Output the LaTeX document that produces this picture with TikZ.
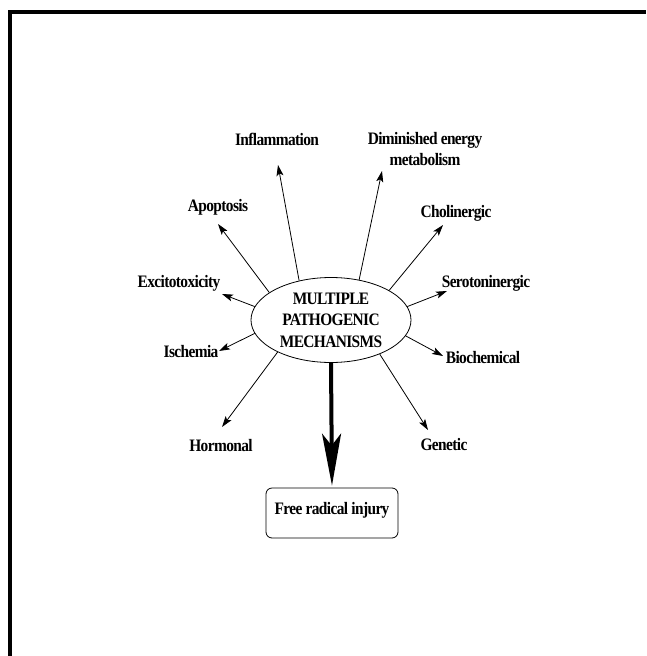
\documentclass[tikz,border=0pt]{standalone}
\usepackage{fontspec}
\setmainfont{Liberation Serif}[FakeStretch=0.88,LetterSpace=-3.5]
\usetikzlibrary{shapes.geometric,arrows.meta}

\begin{document}
\begin{tikzpicture}[x=1pt, y=-1pt,
  lbl/.style={font=\bfseries\fontsize{17.5}{21}\selectfont, inner sep=0pt, anchor=base, align=center},
  spoke/.style={-{Stealth[length=11pt,width=7pt,inset=2.5pt]}, line width=0.8pt}]
\useasboundingbox (0,0) rectangle (646,656);
\draw[line width=4pt] (9.5,656) -- (9.5,11.5) -- (646,11.5);

\node (core) [ellipse, draw=black, line width=0.8pt, minimum width=160pt, minimum height=85pt, inner sep=0pt, align=center, font=\bfseries\fontsize{17.5}{21.5}\selectfont] at (331,320) {MULTIPLE\\PATHOGENIC\\MECHANISMS};

\node (infl) [lbl] at (277,145) {Inflammation};
\node (dimin) [lbl, anchor=center] at (425,149) {Diminished energy\\metabolism};
\node (apop) [lbl] at (218,211) {Apoptosis};
\node (chol) [lbl] at (456,217) {Cholinergic};
\node (exci) [lbl] at (179,287) {Excitotoxicity};
\node (sero) [lbl] at (486,287) {Serotoninergic};
\node (isch) [lbl] at (191,357) {Ischemia};
\node (bioc) [lbl] at (483,363) {Biochemical};
\node (horm) [lbl] at (221,451) {Hormonal};
\node (gene) [lbl] at (444,450) {Genetic};

\node (injury) [rectangle, rounded corners=6pt, draw=black, line width=0.8pt, minimum width=132pt, minimum height=50pt, text height=12pt, text depth=10pt, font=\bfseries\fontsize{17.5}{21}\selectfont] at (332,513) {Free radical injury};

% arrow tips next to the labels
\coordinate (infl-tip) at (278,165);
\coordinate (dimin-tip) at (382,171);
\coordinate (apop-tip) at (218,224);
\coordinate (chol-tip) at (443,225);
\coordinate (exci-tip) at (222,294);
\coordinate (sero-tip) at (447,291);
\coordinate (isch-tip) at (219,351);
\coordinate (bioc-tip) at (443,356);
\coordinate (horm-tip) at (222,427);
\coordinate (gene-tip) at (428,430);

\draw[spoke] (core.129) -- (infl-tip);
\draw[spoke] (core.55) -- (dimin-tip);
\draw[spoke] (core.156) -- (apop-tip);
\draw[spoke] (core.27) -- (chol-tip);
\draw[spoke] (core.170) -- (exci-tip);
\draw[spoke] (core.10) -- (sero-tip);
\draw[spoke] (core.190) -- (isch-tip);
\draw[spoke] (core.348) -- (bioc-tip);
\draw[spoke] (core.211) -- (horm-tip);
\draw[spoke] (core.325) -- (gene-tip);

\draw[line width=4pt, -{Stealth[length=52pt,width=19pt,inset=12pt]}, shorten >=2pt] (core.south) -- (injury.north);

\end{tikzpicture}
\end{document}
